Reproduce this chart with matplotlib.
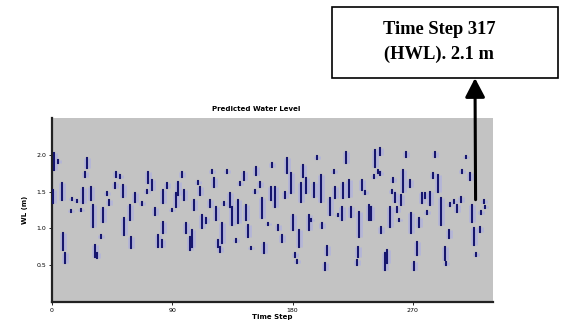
import matplotlib as mpl
mpl.use('Agg')
import matplotlib.pyplot as plt
from matplotlib.patches import Rectangle

# water level record, read off the plot as short vertical runs of points
# (time step, lowest level in run, highest level in run), metres
dash_step = [1.5, 4.5, 1, 7.5, 8, 10, 15, 19, 14, 22, 23, 26, 25, 29, 30.5, 32, 34, 37, 38, 41,
             43, 47, 48, 51, 53, 54, 58, 59, 62, 67, 71, 72, 75, 77, 79, 83, 83, 82.5, 86, 90,
             93, 94.5, 97, 99, 100, 103, 105, 106, 109, 111, 112, 115, 118, 120, 121, 123, 124, 126, 127, 129,
             131, 133, 135, 138, 139, 141, 144, 145, 147, 149, 152, 153, 156, 157, 159, 162, 164, 164.5, 167, 169,
             172, 174, 176, 179, 180, 182, 183, 185, 186, 187.5, 190, 192, 194, 196, 198, 201, 202, 204, 206, 208,
             211, 212, 214, 217, 218, 220, 222, 224, 228, 230, 229, 232, 234, 237, 239, 241, 242, 244, 245.5, 245.5,
             246, 249, 251, 253, 255, 254.5, 257, 258, 260, 261, 263, 265, 268, 269, 271, 273, 275, 277, 279, 281,
             283, 285, 287, 289, 291, 294, 295, 297, 298, 301, 303, 306, 307, 310, 312.5, 314, 315.5, 317, 320, 321,
             323, 324]
dash_lo = [1.80, 1.89, 1.35, 1.38, 0.71, 0.53, 1.38, 1.36, 1.22, 1.24, 1.35, 1.82, 1.70, 1.39, 1.02, 0.61, 0.60, 0.87, 1.09, 1.45,
           1.32, 1.55, 1.70, 1.69, 1.43, 0.91, 1.11, 0.73, 1.36, 1.32, 1.48, 1.62, 1.52, 1.18, 0.75, 1.35, 0.94, 0.75, 1.55, 1.24,
           1.29, 1.45, 1.70, 1.39, 0.94, 0.71, 0.75, 1.25, 1.60, 1.45, 1.01, 1.07, 1.29, 1.75, 1.56, 1.11, 0.75, 0.68, 0.80, 1.32,
           1.75, 1.29, 1.05, 0.82, 1.07, 1.59, 1.66, 1.11, 0.88, 0.72, 1.48, 1.73, 1.56, 1.14, 0.67, 1.04, 1.39, 1.83, 1.29, 0.98,
           0.82, 1.41, 1.75, 1.48, 0.98, 0.61, 0.53, 0.75, 1.36, 1.70, 1.48, 0.98, 1.10, 1.43, 1.94, 1.36, 1.01, 0.43, 0.64, 1.18,
           1.75, 1.41, 1.17, 1.11, 1.41, 1.89, 1.43, 1.15, 0.50, 0.88, 0.61, 1.52, 1.47, 1.11, 1.11, 1.69, 1.83, 1.75, 2.00, 1.73,
           0.94, 0.43, 0.53, 1.02, 1.63, 1.48, 1.36, 1.22, 1.10, 1.32, 1.49, 1.97, 1.56, 0.94, 0.43, 0.64, 1.02, 1.35, 1.41, 1.20,
           1.32, 1.68, 1.97, 1.49, 1.05, 0.57, 0.50, 0.87, 1.31, 1.35, 1.22, 1.36, 1.75, 1.95, 1.66, 1.09, 0.77, 0.62, 0.95, 1.20,
           1.35, 1.28]
dash_hi = [2.02, 1.93, 1.52, 1.62, 0.94, 0.67, 1.41, 1.39, 1.25, 1.26, 1.55, 1.96, 1.77, 1.56, 1.32, 0.77, 0.67, 0.91, 1.28, 1.49,
           1.39, 1.62, 1.77, 1.73, 1.59, 1.14, 1.32, 0.88, 1.48, 1.36, 1.52, 1.77, 1.66, 1.28, 0.91, 1.52, 1.09, 0.84, 1.62, 1.26,
           1.48, 1.63, 1.77, 1.52, 1.07, 0.88, 0.98, 1.39, 1.64, 1.56, 1.18, 1.14, 1.39, 1.79, 1.68, 1.29, 0.84, 0.75, 1.07, 1.36,
           1.79, 1.48, 1.29, 0.86, 1.39, 1.63, 1.77, 1.32, 1.05, 0.75, 1.52, 1.83, 1.63, 1.41, 0.80, 1.07, 1.56, 1.89, 1.56, 1.05,
           0.91, 1.49, 1.96, 1.75, 1.18, 0.67, 0.57, 0.98, 1.62, 1.86, 1.68, 1.18, 1.13, 1.62, 1.98, 1.73, 1.07, 0.53, 0.76, 1.41,
           1.79, 1.56, 1.20, 1.29, 1.62, 2.04, 1.66, 1.29, 0.57, 1.22, 0.75, 1.66, 1.51, 1.32, 1.29, 1.72, 2.07, 1.79, 2.09, 1.77,
           1.02, 0.67, 0.71, 1.29, 1.68, 1.52, 1.48, 1.29, 1.13, 1.45, 1.79, 2.04, 1.66, 1.21, 0.54, 0.82, 1.14, 1.48, 1.48, 1.23,
           1.49, 1.75, 2.04, 1.73, 1.41, 0.75, 0.54, 0.98, 1.34, 1.38, 1.32, 1.43, 1.79, 1.98, 1.75, 1.32, 1.01, 0.66, 1.02, 1.23,
           1.38, 1.31]

x_ticks = [0, 90, 180, 270]
y_ticks = [0.5, 1.0, 1.5, 2.0]
hwl_step = 317
hwl_level = 1.39

fig = plt.figure(figsize=(5.61, 3.2), dpi=100)
ax = fig.add_axes([0.0927, 0.0563, 0.786, 0.575])
ax.set_facecolor('#c3c3c3')

# light blue haze under the points, then the points themselves
ax.vlines(dash_step, dash_lo, dash_hi, colors='#a9abe6', linewidth=5, alpha=0.55, zorder=2)
ax.vlines(dash_step, dash_lo, dash_hi, colors='#16166e', linewidth=1.5, zorder=3, capstyle='projecting')

ax.set_xlim(0, 330)
ax.set_ylim(0, 2.5)
ax.set_xticks(x_ticks)
ax.set_yticks(y_ticks)
ax.tick_params(labelsize=4.5, length=2, width=0.6, pad=2)
for s in ['top', 'right']:
    ax.spines[s].set_visible(False)
for s in ['left', 'bottom']:
    ax.spines[s].set_linewidth(1.6)
    ax.spines[s].set_color('#222222')

ax.set_xlabel('Time Step', fontsize=5, fontweight='bold', labelpad=1)
ax.set_ylabel('WL (m)', fontsize=5, fontweight='bold', labelpad=6)
fig.text(0.456, 0.66, 'Predicted Water Level', fontsize=5, fontweight='bold', ha='center', va='center')

# annotation box with arrow
fig.patches.append(Rectangle((0.592, 0.756), 0.402, 0.222, transform=fig.transFigure,
                             facecolor='white', edgecolor='black', linewidth=1.2))
fig.text(0.783, 0.869, 'Time Step 317\n(HWL). 2.1 m', fontsize=13.3, fontweight='bold',
         family='Liberation Serif', ha='center', va='center', linespacing=1.55)
ax.annotate('', xy=(0.8467, 0.756), xycoords='figure fraction',
            xytext=(hwl_step, hwl_level), textcoords='data', annotation_clip=False,
            arrowprops=dict(arrowstyle='-|>,head_length=1.15,head_width=0.6', lw=2.2,
                            color='black', shrinkA=0, shrinkB=0))

plt.savefig('out.png', dpi=100)
